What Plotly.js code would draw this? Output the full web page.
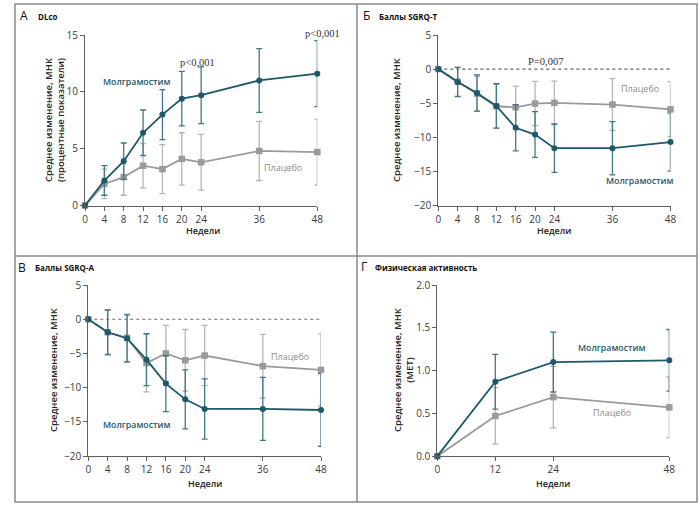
<!DOCTYPE html>
<html>
<head>
<meta charset="utf-8">
<script src="https://cdn.plot.ly/plotly-3.0.1.min.js"></script>
<style>
  html, body { margin: 0; padding: 0; background: #fff; }
  #chart { width: 700px; height: 505px; }
</style>
</head>
<body>
<div id="chart"></div>
<script>
// Недели наблюдения
const weeks = [0, 4, 8, 12, 16, 20, 24, 36, 48];
const weeksMet = [0, 12, 24, 48];

// A — DLco
const dlcoMolg = [0, 2.2, 3.9, 6.4, 8.0, 9.4, 9.7, 11.0, 11.6];
const dlcoMolgErr = [0, 1.3, 1.6, 2.0, 2.2, 2.4, 2.5, 2.8, 2.9];
const dlcoPlac = [0, 1.9, 2.5, 3.5, 3.2, 4.1, 3.8, 4.8, 4.7];
const dlcoPlacErr = [0, 1.3, 1.6, 1.95, 2.15, 2.3, 2.45, 2.6, 2.9];

// Б — SGRQ-T
const sgrqTMolg = [0, -1.9, -3.5, -5.4, -8.6, -9.6, -11.6, -11.6, -10.7];
const sgrqTMolgErr = [0, 2.15, 2.65, 3.25, 3.4, 3.35, 3.55, 3.9, 4.25];
const sgrqTPlac = [0, -1.85, -3.6, -5.45, -5.6, -5.05, -4.95, -5.2, -5.9];
const sgrqTPlacErr = [0, 2.1, 2.55, 3.2, 3.1, 3.25, 3.2, 3.8, 4.05];

// В — SGRQ-A
const sgrqAMolg = [0, -1.9, -2.8, -5.9, -9.4, -11.7, -13.1, -13.1, -13.25];
const sgrqAMolgErr = [0, 3.25, 3.45, 3.8, 4.1, 4.3, 4.4, 4.6, 5.3];
const sgrqAPlac = [0, -1.9, -2.7, -6.4, -5.0, -6.0, -5.3, -6.85, -7.4];
const sgrqAPlacErr = [0, 3.3, 3.45, 4.2, 4.1, 4.5, 4.4, 4.65, 5.25];

// Г — Физическая активность (MET)
const metMolg = [0, 0.87, 1.10, 1.12];
const metMolgErr = [0, 0.32, 0.35, 0.36];
const metPlac = [0, 0.47, 0.69, 0.57];
const metPlacErr = [0, 0.33, 0.36, 0.355];

const TEAL = "#1d586b";
const TEAL_ERR = "#427787";
const GREY = "#9a9a9a";
const GREY_ERR = "#b5b5b5";
const FONT = "Open Sans, Noto Sans, sans-serif";

// пиксели -> доли paper
const px = x => x / 700;
const py = y => 1 - y / 505;

function series(x, y, err, isMolg, n) {
  return {
    x: x, y: y,
    xaxis: "x" + (n === 1 ? "" : n),
    yaxis: "y" + (n === 1 ? "" : n),
    type: "scatter",
    mode: "lines+markers",
    cliponaxis: false,
    line: { color: isMolg ? TEAL : GREY, width: 1.8 },
    marker: {
      symbol: isMolg ? "circle" : "square",
      size: isMolg ? 6 : 6.5,
      color: isMolg ? TEAL : GREY
    },
    error_y: {
      type: "data", array: err, visible: true,
      color: isMolg ? TEAL_ERR : GREY_ERR,
      thickness: 1.3, width: 3
    },
    hoverinfo: "skip",
    showlegend: false
  };
}

const traces = [
  series(weeks, dlcoPlac, dlcoPlacErr, false, 1),
  series(weeks, dlcoMolg, dlcoMolgErr, true, 1),
  series(weeks, sgrqTPlac, sgrqTPlacErr, false, 2),
  series(weeks, sgrqTMolg, sgrqTMolgErr, true, 2),
  series(weeks, sgrqAPlac, sgrqAPlacErr, false, 3),
  series(weeks, sgrqAMolg, sgrqAMolgErr, true, 3),
  series(weeksMet, metPlac, metPlacErr, false, 4),
  series(weeksMet, metMolg, metMolgErr, true, 4)
];

const tickFont = { family: FONT, size: 10, color: "#3a3a3a" };

function xAxis(domain, anchor, ticks) {
  return {
    domain: domain, anchor: anchor, range: [0, 48],
    tickvals: ticks, ticktext: ticks.map(String),
    showgrid: false, zeroline: false,
    showline: true, linecolor: "#606060", linewidth: 1,
    ticks: "outside", ticklen: 4, tickcolor: "#606060",
    tickfont: tickFont
  };
}

function yAxis(domain, anchor, range, dtick, fmt) {
  return {
    domain: domain, anchor: anchor, range: range, dtick: dtick,
    tickformat: fmt,
    showgrid: false, zeroline: false,
    showline: true, linecolor: "#606060", linewidth: 1,
    ticks: "outside", ticklen: 4, tickcolor: "#606060",
    tickfont: tickFont
  };
}

const topY = [py(205.5), py(35)];
const botY = [py(456.2), py(285)];

function txt(x, y, text, opts) {
  return Object.assign({
    xref: "paper", yref: "paper", x: px(x), y: py(y),
    text: text, showarrow: false,
    xanchor: "center", yanchor: "middle",
    font: { family: FONT, size: 10, color: "#222" }
  }, opts || {});
}

const labelMolg = { family: FONT, size: 8.8, color: TEAL, weight: 600 };
const labelPlac = { family: FONT, size: 9, color: "#8c8c8c" };
const pFont = { family: "Liberation Serif, serif", size: 10.5, color: "#333" };
const letterFont = { family: FONT, size: 12, color: "#111" };
const subFont = { family: FONT, size: 8, color: "#111", weight: "bold" };
const ytFont = { family: FONT, size: 9.5, color: "#222", weight: 600 };
const xtFont = { family: FONT, size: 9, color: "#222", weight: 600 };

const annotations = [
  // заголовки панелей
  txt(18, 15, "A", { xanchor: "left", font: letterFont }),
  txt(36, 16, "DLco", { xanchor: "left", font: subFont }),
  txt(361, 15, "Б", { xanchor: "left", font: letterFont }),
  txt(377, 16, "Баллы SGRQ-T", { xanchor: "left", font: subFont }),
  txt(16, 267, "В", { xanchor: "left", font: letterFont }),
  txt(33, 267, "Баллы SGRQ-A", { xanchor: "left", font: subFont }),
  txt(359, 266, "Г", { xanchor: "left", font: letterFont }),
  txt(373, 267, "Физическая активность", { xanchor: "left", font: subFont }),

  // подписи осей Y
  txt(54, 120, "Среднее изменение, МНК<br>(процентные показатели)", { textangle: -90, font: ytFont }),
  txt(396, 120, "Среднее изменение, МНК", { textangle: -90, font: ytFont }),
  txt(53, 370, "Среднее изменение, МНК", { textangle: -90, font: ytFont }),
  txt(403, 370, "Среднее изменение, МНК<br>(МЕТ)", { textangle: -90, font: ytFont }),

  // подписи осей X
  txt(203, 231, "Недели", { font: xtFont }),
  txt(554, 231, "Недели", { font: xtFont }),
  txt(205, 483, "Недели", { font: xtFont }),
  txt(553, 483, "Недели", { font: xtFont }),

  // серии и p-значения
  txt(137, 82, "Молграмостим", { font: labelMolg }),
  txt(283, 167, "Плацебо", { font: labelPlac }),
  txt(197, 62, "p<0,001", { font: pFont }),
  txt(322, 33, "p<0,001", { font: pFont }),
  txt(545, 61, "P=0,007", { font: pFont }),
  txt(640, 89, "Плацебо", { font: labelPlac }),
  txt(640, 181, "Молграмостим", { font: labelMolg }),
  txt(137, 425, "Молграмостим", { font: labelMolg }),
  txt(290, 356, "Плацебо", { font: labelPlac }),
  txt(612, 348, "Молграмостим", { font: labelMolg }),
  txt(612, 412, "Плацебо", { font: labelPlac })
];

const frame = { color: "#8a8a8a", width: 1.5 };
const shapes = [
  { type: "rect", xref: "paper", yref: "paper", x0: px(15), x1: px(697), y0: py(502), y1: py(4), line: frame },
  { type: "line", xref: "paper", yref: "paper", x0: px(357), x1: px(357), y0: py(502), y1: py(4), line: frame },
  { type: "line", xref: "paper", yref: "paper", x0: px(15), x1: px(697), y0: py(256), y1: py(256), line: frame },
  // пунктир на нуле
  { type: "line", xref: "x2 domain", yref: "y2", x0: 0, x1: 1, y0: 0, y1: 0,
    line: { color: "#666", width: 1.2, dash: "3px,3px" }, layer: "below" },
  { type: "line", xref: "x3 domain", yref: "y3", x0: 0, x1: 1, y0: 0, y1: 0,
    line: { color: "#666", width: 1.2, dash: "3px,3px" }, layer: "below" }
];

const layout = {
  width: 700, height: 505,
  margin: { l: 0, r: 0, t: 0, b: 0 },
  paper_bgcolor: "#fff", plot_bgcolor: "rgba(0,0,0,0)",
  showlegend: false,
  xaxis: xAxis([px(85), px(317.3)], "y", weeks),
  yaxis: yAxis(topY, "x", [0, 15], 5),
  xaxis2: xAxis([px(438.3), px(670.5)], "y2", weeks),
  yaxis2: yAxis(topY, "x2", [-20, 5], 5),
  xaxis3: xAxis([px(88.3), px(321)], "y3", weeks),
  yaxis3: yAxis(botY, "x3", [-20, 5], 5),
  xaxis4: xAxis([px(437.3), px(669.3)], "y4", weeksMet),
  yaxis4: yAxis(botY, "x4", [0, 2], 0.5, ".1f"),
  annotations: annotations,
  shapes: shapes
};

Plotly.newPlot("chart", traces, layout, { displayModeBar: false, staticPlot: true });
</script>
</body>
</html>
